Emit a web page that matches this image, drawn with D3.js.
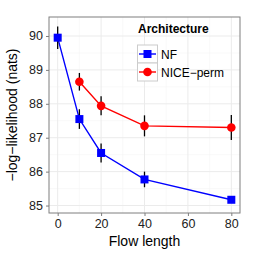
<!DOCTYPE html>
<html><head><meta charset="utf-8">
<script src="https://cdn.jsdelivr.net/npm/d3@7"></script>
<style>body{margin:0;background:#fff}svg{display:block}text{font-family:"Liberation Sans",Arial,sans-serif}</style>
</head><body><svg id="c" width="258" height="258"></svg>
<script>
const flowNF = [0, 10, 20, 40, 80];
const nllNF = [89.95, 87.55, 86.55, 85.77, 85.17];
const errNF = [0.33, 0.29, 0.28, 0.23, 0.08];
const flowNICE = [10, 20, 40, 80];
const nllNICE = [88.65, 87.94, 87.35, 87.30];
const errNICE = [0.26, 0.28, 0.31, 0.37];
const xTicks = [0, 20, 40, 60, 80];
const yTicks = [85, 86, 87, 88, 89, 90];
const seriesNames = ["NF", "NICE\u2212perm"];
const seriesColors = ["#0000ff", "#ff0000"];

const svg = d3.select("#c");
const L = 49, R = 240, T = 17, B = 213;
const x = d3.scaleLinear().domain([-4, 84]).range([L, R]);
const y = d3.scaleLinear().domain([84.78, 90.56]).range([B, T]);

const g = svg.append("g");
const xMinor = [10, 30, 50, 70];
const yMinor = [85.5, 86.5, 87.5, 88.5, 89.5];
g.selectAll(".xm").data(xMinor).enter().append("line")
  .attr("x1", d => x(d)).attr("x2", d => x(d)).attr("y1", T).attr("y2", B)
  .attr("stroke", "#f5f5f5").attr("stroke-width", 0.6);
g.selectAll(".ym").data(yMinor).enter().append("line")
  .attr("y1", d => y(d)).attr("y2", d => y(d)).attr("x1", L).attr("x2", R)
  .attr("stroke", "#f5f5f5").attr("stroke-width", 0.6);
g.selectAll(".xg").data(xTicks).enter().append("line")
  .attr("x1", d => x(d)).attr("x2", d => x(d)).attr("y1", T).attr("y2", B)
  .attr("stroke", "#ebebeb").attr("stroke-width", 1);
g.selectAll(".yg").data(yTicks).enter().append("line")
  .attr("y1", d => y(d)).attr("y2", d => y(d)).attr("x1", L).attr("x2", R)
  .attr("stroke", "#ebebeb").attr("stroke-width", 1);

const xa = svg.append("g").attr("transform", `translate(0,${B})`)
  .call(d3.axisBottom(x).tickValues(xTicks).tickFormat(d3.format("d")).tickSize(3).tickPadding(3));
const ya = svg.append("g").attr("transform", `translate(${L},0)`)
  .call(d3.axisLeft(y).tickValues(yTicks).tickFormat(d3.format("d")).tickSize(3).tickPadding(3));
[xa, ya].forEach(a => {
  a.select(".domain").remove();
  a.selectAll(".tick line").attr("stroke", "#7f7f7f");
  a.selectAll(".tick text").attr("fill", "#222").style("font-size", "12.5px")
   .style("font-family", '"Liberation Sans",Arial,sans-serif');
});

svg.append("rect").attr("x", L).attr("y", T).attr("width", R - L).attr("height", B - T)
  .attr("fill", "none").attr("stroke", "#7f7f7f").attr("stroke-width", 1);

const series = [
  {xs: flowNF, ys: nllNF, es: errNF, col: seriesColors[0], shape: "square"},
  {xs: flowNICE, ys: nllNICE, es: errNICE, col: seriesColors[1], shape: "circle"}
];
series.forEach(s => {
  const pts = s.xs.map((v, i) => ({x: v, y: s.ys[i], e: s.es[i]}));
  svg.append("path").datum(pts)
    .attr("d", d3.line().x(d => x(d.x)).y(d => y(d.y)))
    .attr("fill", "none").attr("stroke", s.col).attr("stroke-width", 1.4);
  svg.selectAll(null).data(pts).enter().append("line")
    .attr("x1", d => x(d.x)).attr("x2", d => x(d.x))
    .attr("y1", d => y(d.y - d.e)).attr("y2", d => y(d.y + d.e))
    .attr("stroke", "#000").attr("stroke-width", 1.3);
  if (s.shape === "square") {
    svg.selectAll(null).data(pts).enter().append("rect")
      .attr("x", d => x(d.x) - 4).attr("y", d => y(d.y) - 4)
      .attr("width", 8).attr("height", 8).attr("fill", s.col);
  } else {
    svg.selectAll(null).data(pts).enter().append("circle")
      .attr("cx", d => x(d.x)).attr("cy", d => y(d.y)).attr("r", 4.3).attr("fill", s.col);
  }
});

svg.append("text").attr("x", (L + R) / 2).attr("y", 246).attr("text-anchor", "middle")
  .style("font-size", "14px").attr("fill", "#000").text("Flow length");
svg.append("text").attr("transform", `translate(17,${(T + B) / 2}) rotate(-90)`)
  .attr("text-anchor", "middle").style("font-size", "14px").attr("fill", "#000")
  .text("\u2212log\u2212likelihood (nats)");

const lg = svg.append("g");
lg.append("text").attr("x", 138).attr("y", 33).style("font-size", "12px")
  .style("font-weight", "bold").text("Architecture");
seriesNames.forEach((n, i) => {
  const ky = 45 + i * 18;
  lg.append("rect").attr("x", 137.5).attr("y", ky).attr("width", 20).attr("height", 18)
    .attr("fill", "#ffffff").attr("stroke", "#cccccc").attr("stroke-width", 1);
  lg.append("line").attr("x1", 139).attr("x2", 156).attr("y1", ky + 9).attr("y2", ky + 9)
    .attr("stroke", seriesColors[i]).attr("stroke-width", 1.4);
  if (i === 0) lg.append("rect").attr("x", 143.5).attr("y", ky + 5).attr("width", 8).attr("height", 8).attr("fill", seriesColors[i]);
  else lg.append("circle").attr("cx", 147.5).attr("cy", ky + 9).attr("r", 4.3).attr("fill", seriesColors[i]);
  lg.append("text").attr("x", 161).attr("y", ky + 13.5).style("font-size", "12px").text(n);
});
</script></body></html>
